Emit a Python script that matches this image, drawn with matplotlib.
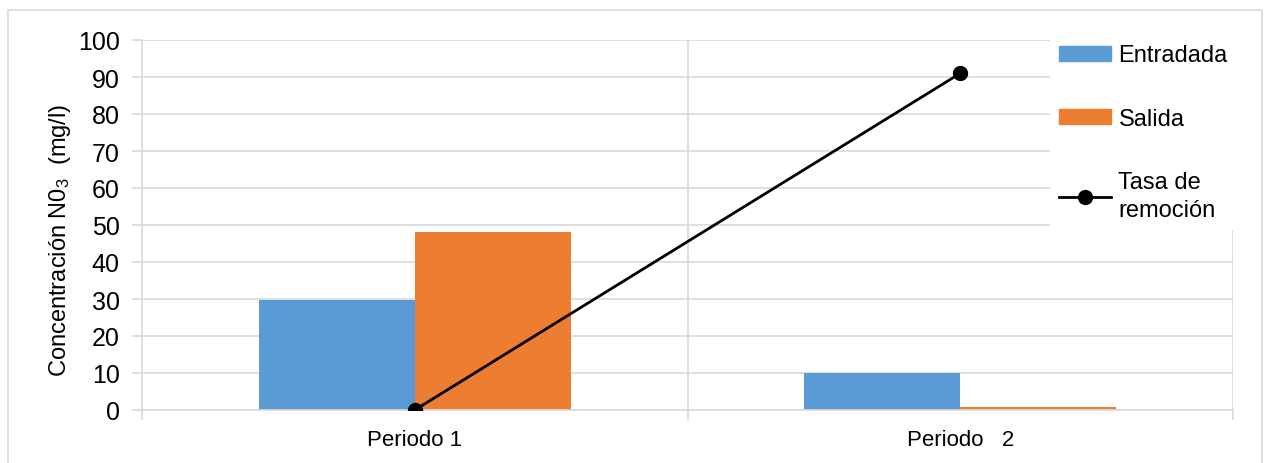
import numpy as np
import matplotlib.pyplot as plt
from matplotlib.patches import Rectangle
from matplotlib.lines import Line2D
from matplotlib.patches import Patch

plt.rcParams['font.family'] = ['Liberation Sans', 'DejaVu Sans']
plt.rcParams['mathtext.fontset'] = 'custom'
plt.rcParams['mathtext.rm'] = 'Liberation Sans'
plt.rcParams['mathtext.it'] = 'Liberation Sans'

periodos = ['Periodo 1', 'Periodo   2']
entrada = [29.7, 10.0]
salida = [48.0, 0.8]
tasa = [0.0, 91.0]

azul = '#5B9BD5'
naranja = '#ED7D31'
gris = '#D9D9D9'

fig = plt.figure(figsize=(12.67, 4.64), dpi=100)
ax = fig.add_axes([142/1267, 1 - 411/464, (1233 - 142)/1267, (411 - 41)/464])

# outer chart frame
fig.patches.append(Rectangle((8/1267, -0.01), (1262 - 8)/1267, 1 - 11/464 + 0.01,
                             transform=fig.transFigure, fill=False,
                             edgecolor=gris, lw=1.2))

x = np.arange(len(periodos))
w = 0.2857
ax.bar(x - w/2, entrada, w, color=azul, zorder=2)
ax.bar(x + w/2, salida, w, color=naranja, zorder=2)
ax.plot(x, tasa, color='black', lw=2, marker='o', ms=10, zorder=3)

ax.set_xlim(-0.5, 1.5)
ax.set_ylim(0, 100)
ax.set_yticks(np.arange(0, 101, 10))
ax.set_xticks(x)
ax.set_xticklabels(periodos, fontsize=16)
ax.set_xticks([-0.5, 0.5, 1.5], minor=True)
ax.tick_params(axis='x', which='major', length=0, pad=14)
ax.tick_params(axis='x', which='minor', length=7, color=gris, width=1.2)
ax.tick_params(axis='y', labelsize=18, length=7, color=gris, width=1.2, pad=9)

ax.grid(axis='y', color=gris, lw=1.2, zorder=0)
for xv in [0.5, 1.5]:
    ax.axvline(xv, color=gris, lw=1.2, zorder=0)
for s in ['top', 'right']:
    ax.spines[s].set_visible(False)
for s in ['left', 'bottom']:
    ax.spines[s].set_color(gris)
    ax.spines[s].set_linewidth(1.2)

ax.set_ylabel('Concentración N0$_{3}$  (mg/l)', fontsize=17)
ax.yaxis.set_label_coords(-0.063, 0.46)

handles = [Patch(color=azul), Patch(color=naranja),
           Line2D([], [], color='black', lw=2, marker='o', ms=10)]
labels = ['Entradada', 'Salida', 'Tasa de\nremoción']
leg = ax.legend(handles, labels, loc='upper left',
                bbox_to_anchor=(1050/1267, 1 - 36/464), bbox_transform=fig.transFigure,
                fontsize=17, frameon=True, fancybox=False, framealpha=1,
                edgecolor='none', facecolor='white', handlelength=2.2,
                handleheight=0.6, handletextpad=0.3, labelspacing=1.75,
                borderpad=0.4, borderaxespad=0)
for t in leg.get_texts():
    t.set_linespacing(1.35)
leg.set_zorder(5)

fig.savefig('out.png', dpi=100)
